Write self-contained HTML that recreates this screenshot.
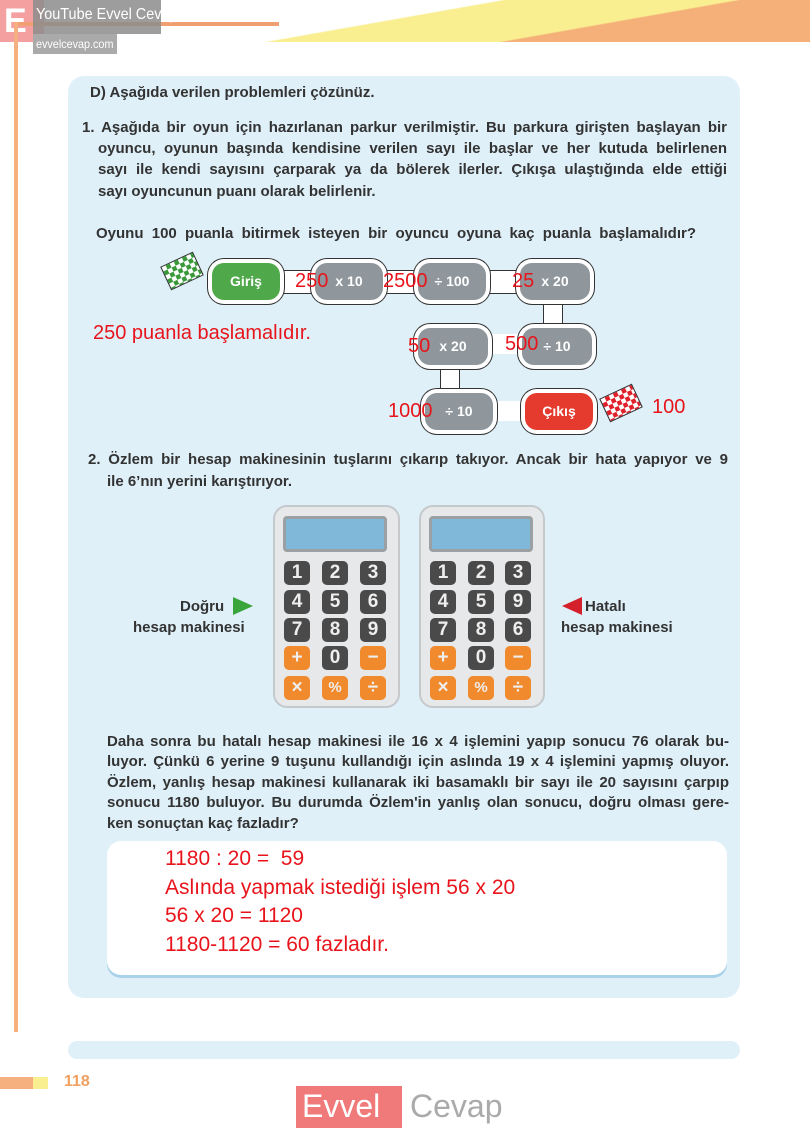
<!DOCTYPE html>
<html><head><meta charset="utf-8"><style>
*{margin:0;padding:0;box-sizing:border-box}
body{width:810px;height:1143px;position:relative;background:#fff;font-family:"Liberation Sans",sans-serif;overflow:hidden}
.a{position:absolute}
.t{position:absolute;font-size:15px;color:#333;line-height:21px;font-weight:bold;white-space:nowrap}
.j{position:absolute;font-size:15px;color:#333;font-weight:bold;line-height:20px;text-align:justify;text-align-last:justify;white-space:nowrap}
.b{position:absolute;background:#8f979c;border-radius:12px;color:#fff;font-weight:bold;font-size:14px;text-align:center;line-height:37px;box-shadow:0 0 0 4px #fff,0 0 0 5px #333}
.r{position:absolute;color:#e8141b;font-size:20px}
.k{position:absolute;width:26px;height:24px;border-radius:5px;background:#4a4a4a;color:#eee;font-weight:bold;font-size:19px;text-align:center;line-height:24px}
.o{background:#f08a2c}
.calc{position:absolute;background:#e6e8ea;border:2px solid #c5c9cc;border-radius:14px}
.scr{position:absolute;background:#7fb8d8;border:3px solid #9aa0a4;border-radius:4px}
</style></head><body>
<div class="a" style="left:0;top:0;width:44px;height:42px;background:#f4a0a0"></div>
<div class="a" style="left:4px;top:2px;color:#fff;font-size:34px;font-weight:bold">E</div>
<div class="a" style="left:265px;top:0;width:545px;height:42px;background:linear-gradient(170deg,#fff 30%,#f9ef90 31%,#f9ef90 60%,#f5b07a 61%)"></div>
<div class="a" style="left:14px;top:22px;width:265px;height:4px;background:#f0a070"></div>
<div class="a" style="left:14px;top:22px;width:4px;height:1010px;background:#f6b080"></div>
<div class="a" style="left:33px;top:0;width:128px;height:34px;background:rgba(140,140,140,.85)"></div>
<div class="a" style="left:36px;top:6px;color:#fff;font-size:16px;transform:scaleX(.9);transform-origin:left;white-space:nowrap">YouTube Evvel Cevap</div>
<div class="a" style="left:33px;top:34px;width:84px;height:20px;background:#aaa"></div>
<div class="a" style="left:36px;top:37px;color:#fff;font-size:12px;transform:scaleX(.9);transform-origin:left;white-space:nowrap">evvelcevap.com</div>
<div class="a" style="left:68px;top:76px;width:672px;height:922px;background:#dff0f9;border-radius:16px"></div>
<div class="t" style="left:90px;top:82px">D) Aşağıda verilen problemleri çözünüz.</div>
<div class="j" style="left:82px;top:118px;width:645px">1. Aşağıda bir oyun için hazırlanan parkur verilmiştir. Bu parkura girişten başlayan bir</div>
<div class="j" style="left:98px;top:139px;width:629px">oyuncu, oyunun başında kendisine verilen sayı ile başlar ve her kutuda belirlenen</div>
<div class="j" style="left:98px;top:160px;width:629px">sayı ile kendi sayısını çarparak ya da bölerek ilerler. Çıkışa ulaştığında elde ettiği</div>
<div class="t" style="left:98px;top:181px">sayı oyuncunun puanı olarak belirlenir.</div>
<div class="j" style="left:96px;top:224px;width:600px">Oyunu 100 puanla bitirmek isteyen bir oyuncu oyuna kaç puanla başlamalıdır?</div>
<div class="a" style="left:270px;top:270px;width:320px;height:24px;background:#fff;border-top:1px solid #333;border-bottom:1px solid #333"></div>
<div class="a" style="left:543px;top:290px;width:20px;height:50px;background:#fff;border-left:1px solid #333;border-right:1px solid #333"></div>
<div class="a" style="left:470px;top:334px;width:70px;height:20px;background:#fff"></div>
<div class="a" style="left:440px;top:355px;width:20px;height:45px;background:#fff;border-left:1px solid #333;border-right:1px solid #333"></div>
<div class="a" style="left:480px;top:401px;width:60px;height:20px;background:#fff"></div>
<div class="b" style="left:212px;top:263px;width:68px;background:#4fa84a">Giriş</div>
<div class="b" style="left:315px;top:263px;width:68px">x 10</div>
<div class="b" style="left:418px;top:263px;width:68px">÷ 100</div>
<div class="b" style="left:520px;top:263px;width:70px">x 20</div>
<div class="b" style="left:418px;top:328px;width:70px">x 20</div>
<div class="b" style="left:522px;top:328px;width:70px">÷ 10</div>
<div class="b" style="left:425px;top:393px;width:68px">÷ 10</div>
<div class="b" style="left:525px;top:393px;width:68px;background:#e53a2e">Çıkış</div>
<div class="a" style="left:164px;top:258px;width:36px;height:26px;transform:rotate(-25deg);background:repeating-conic-gradient(#3a9a3a 0 25%,#fff 0 50%) 0 0/9px 9px;border:1px solid #333"></div>
<div class="a" style="left:603px;top:390px;width:36px;height:26px;transform:rotate(-25deg);background:repeating-conic-gradient(#e0202a 0 25%,#fff 0 50%) 0 0/9px 9px;border:1px solid #333"></div>
<div class="r" style="left:295px;top:270px">250</div>
<div class="r" style="left:383px;top:270px">2500</div>
<div class="r" style="left:512px;top:270px">25</div>
<div class="r" style="left:408px;top:335px">50</div>
<div class="r" style="left:505px;top:333px">500</div>
<div class="r" style="left:388px;top:400px">1000</div>
<div class="r" style="left:652px;top:396px">100</div>
<div class="r" style="left:93px;top:322px">250 puanla başlamalıdır.</div>
<div class="j" style="left:88px;top:450px;width:640px">2. Özlem bir hesap makinesinin tuşlarını çıkarıp takıyor. Ancak bir hata yapıyor ve 9</div>
<div class="t" style="left:107px;top:471px">ile 6’nın yerini karıştırıyor.</div>
<div class="calc" style="left:273px;top:505px;width:127px;height:203px"></div>
<div class="scr" style="left:283px;top:516px;width:104px;height:36px"></div>
<div class="calc" style="left:419px;top:505px;width:126px;height:203px"></div>
<div class="scr" style="left:429px;top:516px;width:104px;height:36px"></div>
<div class="k" style="left:284px;top:561px">1</div><div class="k" style="left:322px;top:561px">2</div><div class="k" style="left:360px;top:561px">3</div>
<div class="k" style="left:284px;top:590px">4</div><div class="k" style="left:322px;top:590px">5</div><div class="k" style="left:360px;top:590px">6</div>
<div class="k" style="left:284px;top:618px">7</div><div class="k" style="left:322px;top:618px">8</div><div class="k" style="left:360px;top:618px">9</div>
<div class="k o" style="left:284px;top:646px">+</div><div class="k" style="left:322px;top:646px">0</div><div class="k o" style="left:360px;top:646px">−</div>
<div class="k o" style="left:284px;top:676px">×</div><div class="k o" style="left:322px;top:676px;font-size:15px">%</div><div class="k o" style="left:360px;top:676px">÷</div>
<div class="k" style="left:430px;top:561px">1</div><div class="k" style="left:468px;top:561px">2</div><div class="k" style="left:505px;top:561px">3</div>
<div class="k" style="left:430px;top:590px">4</div><div class="k" style="left:468px;top:590px">5</div><div class="k" style="left:505px;top:590px">9</div>
<div class="k" style="left:430px;top:618px">7</div><div class="k" style="left:468px;top:618px">8</div><div class="k" style="left:505px;top:618px">6</div>
<div class="k o" style="left:430px;top:646px">+</div><div class="k" style="left:468px;top:646px">0</div><div class="k o" style="left:505px;top:646px">−</div>
<div class="k o" style="left:430px;top:676px">×</div><div class="k o" style="left:468px;top:676px;font-size:15px">%</div><div class="k o" style="left:505px;top:676px">÷</div>
<div class="t" style="left:180px;top:596px">Doğru</div>
<div class="a" style="left:233px;top:597px;width:0;height:0;border-left:20px solid #3aa53a;border-top:9px solid transparent;border-bottom:9px solid transparent"></div>
<div class="t" style="left:133px;top:617px">hesap makinesi</div>
<div class="a" style="left:562px;top:597px;width:0;height:0;border-right:20px solid #d3202a;border-top:9px solid transparent;border-bottom:9px solid transparent"></div>
<div class="t" style="left:585px;top:596px">Hatalı</div>
<div class="t" style="left:561px;top:617px">hesap makinesi</div>
<div class="j" style="left:107px;top:732px;width:622px">Daha sonra bu hatalı hesap makinesi ile 16 x 4 işlemini yapıp sonucu 76 olarak bu-</div>
<div class="j" style="left:107px;top:752px;width:622px">luyor. Çünkü 6 yerine 9 tuşunu kullandığı için aslında 19 x 4 işlemini yapmış oluyor.</div>
<div class="j" style="left:107px;top:773px;width:622px">Özlem, yanlış hesap makinesi kullanarak iki basamaklı bir sayı ile 20 sayısını çarpıp</div>
<div class="j" style="left:107px;top:793px;width:622px">sonucu 1180 buluyor. Bu durumda Özlem'in yanlış olan sonucu, doğru olması gere-</div>
<div class="t" style="left:107px;top:813px">ken sonuçtan kaç fazladır?</div>
<div class="a" style="left:107px;top:841px;width:620px;height:134px;background:#fff;border-radius:14px;box-shadow:0 3px 0 #a8d2ea"></div>
<div class="r" style="left:165px;top:845px;font-size:21px;line-height:28.5px">1180 : 20 =&nbsp; 59<br>Aslında yapmak istediği işlem 56 x 20<br>56 x 20 = 1120<br>1180-1120 = 60 fazladır.</div>
<div class="a" style="left:68px;top:1041px;width:672px;height:18px;background:#dff0f9;border-radius:9px"></div>
<div class="a" style="left:0;top:1077px;width:33px;height:12px;background:#f6b080"></div>
<div class="a" style="left:33px;top:1077px;width:15px;height:12px;background:#f9ef90"></div>
<div class="a" style="left:64px;top:1073px;color:#f0a060;font-weight:bold;font-size:16px">118</div>
<div class="a" style="left:296px;top:1086px;width:106px;height:42px;background:#f07a7a"></div>
<div class="a" style="left:302px;top:1088px;color:#fff;font-size:32px">Evvel</div>
<div class="a" style="left:410px;top:1088px;color:#aaa;font-size:32px">Cevap</div>
</body></html>
